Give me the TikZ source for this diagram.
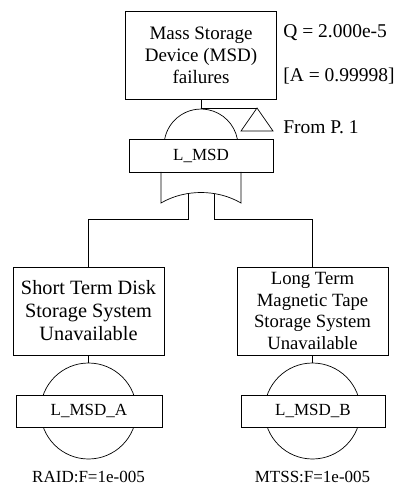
\documentclass[tikz,border=0pt]{standalone}
\usepackage{fontspec}
\setmainfont{Liberation Serif}
\begin{document}
\begin{tikzpicture}[x=1pt,y=-1pt,line width=0.7pt,
  evbox/.style={draw,fill=white,minimum width=151pt,minimum height=88pt,align=center,inner sep=0pt,font=\fontsize{19}{22}\selectfont},
  evboxl/.style={evbox,font=\fontsize{20.3}{23}\selectfont},
  evboxs/.style={evbox,font=\fontsize{18.7}{21.7}\selectfont},
  lblbox/.style={draw,fill=white,minimum height=32pt,align=center,inner sep=0pt,font=\fontsize{17}{20}\selectfont},
  basecirc/.style={draw,circle,minimum size=96pt,inner sep=0pt},
  note/.style={inner sep=0pt,font=\fontsize{19.5}{22}\selectfont},
  smallnote/.style={inner sep=0pt,font=\fontsize{17}{20}\selectfont}]
\useasboundingbox (0,0) rectangle (405,494);

% top event
\node[evbox] (top) at (201,55) {Mass Storage\\Device (MSD)\\failures};
\node[note,anchor=west] (q) at (283,33) {Q = 2.000e-5};
\node[note,anchor=west] (a) at (283,76) {[A = 0.99998]};

% gate
\coordinate (gateTop) at (201,108);
\coordinate (domeL) at (164.7,139);
\draw (domeL) arc[start angle=169,end angle=11,radius=37pt];
\node[lblbox,minimum width=144pt,minimum height=33pt] (gate) at (201,155.5) {L\_MSD};
\coordinate (gL) at (161,172);
\coordinate (gR) at (241,172);
\draw (gL) -- (161,203) .. controls (185,189) and (217,189) .. (241,203) -- (gR);
\draw (top.south) -- (gateTop);

% transfer triangle
\coordinate (triApex) at (257,108);
\draw (gateTop) -- (triApex);
\draw (triApex) -- (273,131) -- (241,131) -- cycle;
\node[note,anchor=west] (from) at (283,127) {From P. 1};

% children
\node[evboxl] (lbox) at (88.5,311) {Short Term Disk\\Storage System\\Unavailable};
\node[evboxs] (rbox) at (312.5,311) {Long Term\\Magnetic Tape\\Storage System\\Unavailable};

\coordinate (gateInL) at (188,193.5);
\coordinate (gateInR) at (214,193.5);
\coordinate (elbowL) at (188,219);
\coordinate (elbowR) at (214,219);
\draw (gateInL) -- (elbowL) -| (lbox.north);
\draw (gateInR) -- (elbowR) -| (rbox.north);

% basic events
\node[basecirc] (lcirc) at (88.5,411) {};
\node[basecirc] (rcirc) at (312.5,411) {};
\draw (lbox.south) -- (lcirc.north);
\draw (rbox.south) -- (rcirc.north);
\node[lblbox,minimum width=146pt] (la) at (89,411) {L\_MSD\_A};
\node[lblbox,minimum width=144pt] (lb) at (313,411) {L\_MSD\_B};

\node[smallnote] (raid) at (88.5,477) {RAID:F=1e-005};
\node[smallnote] (mtss) at (312.5,477) {MTSS:F=1e-005};
\end{tikzpicture}
\end{document}
